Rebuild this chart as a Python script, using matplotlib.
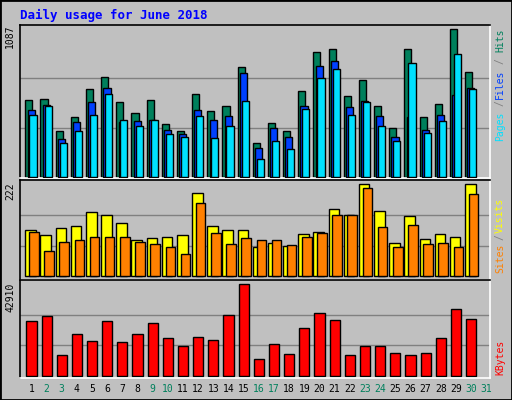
import matplotlib
matplotlib.use("Agg")
import matplotlib.pyplot as plt
from matplotlib.patches import Rectangle

days = list(range(1, 31))
day_labels = [str(d) for d in range(1, 32)]
weekend = {2, 3, 9, 10, 16, 17, 23, 24, 30, 31}

hits = [564, 572, 340, 444, 651, 732, 555, 473, 564, 392, 340, 614, 488, 525, 806,
        251, 399, 340, 636, 917, 939, 599, 717, 525, 362, 939, 444, 540, 1087, 769]
files = [495, 532, 281, 407, 555, 658, 407, 414, 422, 348, 318, 495, 422, 451, 762,
         214, 362, 296, 525, 813, 850, 518, 562, 451, 296, 444, 348, 458, 606, 658]
pages = [458, 525, 251, 340, 458, 614, 422, 377, 422, 318, 296, 451, 288, 377, 562,
         133, 266, 207, 503, 725, 791, 458, 555, 377, 266, 836, 325, 414, 902, 651]
sites = [111, 99, 116, 121, 154, 147, 128, 87, 92, 96, 99, 200, 121, 111, 111,
         70, 80, 72, 101, 106, 162, 147, 222, 157, 80, 145, 89, 101, 94, 222]
visits = [106, 60, 82, 87, 96, 94, 94, 82, 77, 70, 53, 176, 104, 77, 92,
          87, 87, 75, 94, 104, 147, 147, 212, 118, 70, 123, 77, 80, 70, 198]
kbytes = [25526, 27875, 9553, 19418, 16130, 25526, 15660, 19418, 24586, 17539,
          13781, 18009, 16600, 28345, 42910, 7673, 14720, 10022, 22237, 29284,
          25996, 9553, 13781, 13781, 10492, 9553, 10492, 17539, 31163, 26465]

BG = "#c0c0c0"
W, H = 512, 400
fig = plt.figure(figsize=(W / 100, H / 100), dpi=100, facecolor=BG)
mono = "DejaVu Sans Mono"


def px_axes(x0, y0, x1, y1):
    return fig.add_axes([x0 / W, 1 - y1 / H, (x1 - x0) / W, (y1 - y0) / H])


def panel(ax, ymax, bottom_pad):
    ax.set_facecolor(BG)
    ax.set_xlim(0, 31)
    ax.set_ylim(-bottom_pad, ymax)
    ax.set_xticks([])
    ax.set_yticks([])
    for s in ax.spines.values():
        s.set_color("white")
        s.set_linewidth(1.2)
    ax.spines["top"].set_color("black")
    ax.spines["left"].set_color("black")


def bars(ax, vals, off, width, color, z):
    ax.bar([d - 1 + off for d in days], vals, width=width, align="edge",
           color=color, edgecolor="black", linewidth=1, zorder=z)


def side_label(pieces):
    for txt, col, yp in pieces:
        fig.text(500 / W, 1 - yp / H, txt, rotation=90, fontsize=7, family=mono,
                 color=col, va="top", ha="center")


fig.patches.append(Rectangle((0, 0), 1, 1, transform=fig.transFigure, fill=False,
                             edgecolor="black", linewidth=2))
fig.text(20 / W, 1 - 15 / H, "Daily usage for June 2018", color="#0000ff",
         fontsize=9, fontweight="bold", family=mono, va="center")

# hits / files / pages
ax1 = px_axes(20, 25, 490, 178)
panel(ax1, 1087 * 151 / 147, 5)
for g in (1087 / 3, 2 * 1087 / 3):
    ax1.axhline(g, color="#808080", lw=1, zorder=0)
bars(ax1, hits, 0.35, 0.47, "#00805c", 2)
bars(ax1, files, 0.5, 0.47, "#0040ff", 3)
bars(ax1, pages, 0.62, 0.47, "#00e0ff", 4)
fig.text(10 / W, 1 - 25 / H, "1087", rotation=90, fontsize=7, family=mono,
         va="top", ha="center")
side_label([("Hits", "#00805c", 28), ("/", "#808080", 58), ("Files", "#0040ff", 70),
            ("/", "#808080", 100), ("Pages", "#00e0ff", 112)])

# sites / visits
ax2 = px_axes(20, 180, 490, 280)
panel(ax2, 222 * 96.3 / 92, 222 * 3.7 / 92)
for g in (74, 148):
    ax2.axhline(g, color="#808080", lw=1, zorder=0)
bars(ax2, sites, 0.35, 0.7, "#ffff00", 2)
bars(ax2, visits, 0.6, 0.63, "#ff8000", 3)
fig.text(10 / W, 1 - 182 / H, "222", rotation=90, fontsize=7, family=mono,
         va="top", ha="center")
side_label([("Visits", "#ffff00", 198), ("/", "#808080", 234),
            ("Sites", "#ff8000", 244)])

# kbytes
ax3 = px_axes(20, 280, 490, 378)
panel(ax3, 42910 * 95.7 / 91.4, 42910 * 2.3 / 91.4)
for g in (42910 / 3, 2 * 42910 / 3):
    ax3.axhline(g, color="#808080", lw=1, zorder=0)
bars(ax3, kbytes, 0.42, 0.67, "#ff0000", 2)
fig.text(10 / W, 1 - 283 / H, "42910", rotation=90, fontsize=7, family=mono,
         va="top", ha="center")
side_label([("KBytes", "#ff0000", 340)])

# day labels
for i, lab in enumerate(day_labels):
    xp = 20 + (i + 0.75) * 470 / 31
    col = "#00805c" if (i + 1) in weekend else "black"
    fig.text(xp / W, 1 - 389 / H, lab, fontsize=7, family=mono, color=col,
             ha="center", va="center")

fig.savefig("out.png", dpi=100, facecolor=BG)
